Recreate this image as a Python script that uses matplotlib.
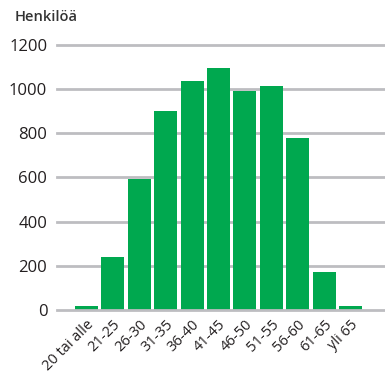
import numpy as np
import matplotlib
matplotlib.use('Agg')
import matplotlib.pyplot as plt

# age groups and number of persons
groups = ['20 tai alle', '21-25', '26-30', '31-35', '36-40', '41-45',
          '46-50', '51-55', '56-60', '61-65', 'yli 65']
persons = [20, 240, 595, 900, 1037, 1097, 992, 1014, 780, 172, 20]
yticks = [0, 200, 400, 600, 800, 1000, 1200]

plt.rcParams['font.family'] = ['Open Sans', 'DejaVu Sans']

fig = plt.figure(figsize=(3.85, 3.74), dpi=100)
ax = fig.add_axes([0.148, 0.171, 0.852, 0.709])

x = np.arange(len(groups))
ax.bar(x, persons, width=0.87, color='#00a84f', zorder=2)

# grid lines behind bars
for y in yticks:
    ax.axhline(y, color='#bdbdc1', lw=2, zorder=1 if y else 3, clip_on=False)

ax.set_xlim(-1.117, 11.31)
ax.set_ylim(0, 1200)
ax.set_yticks(yticks)
ax.set_yticklabels([str(v) for v in yticks], fontsize=12, color='#231f20')
ax.set_xticks(x)
ax.set_xticklabels(groups, rotation=45, ha='right', rotation_mode='anchor',
                   fontsize=10.5, color='#231f20')
ax.tick_params(axis='y', length=0, pad=7)
ax.tick_params(axis='x', length=0, pad=5)
for s in ax.spines.values():
    s.set_visible(False)

fig.text(15 / 385, 1 - 17 / 374, 'Henkilöä', fontsize=10.5, color='#333333',
         fontweight='semibold', va='center', ha='left')

plt.savefig('out.png', dpi=100)
